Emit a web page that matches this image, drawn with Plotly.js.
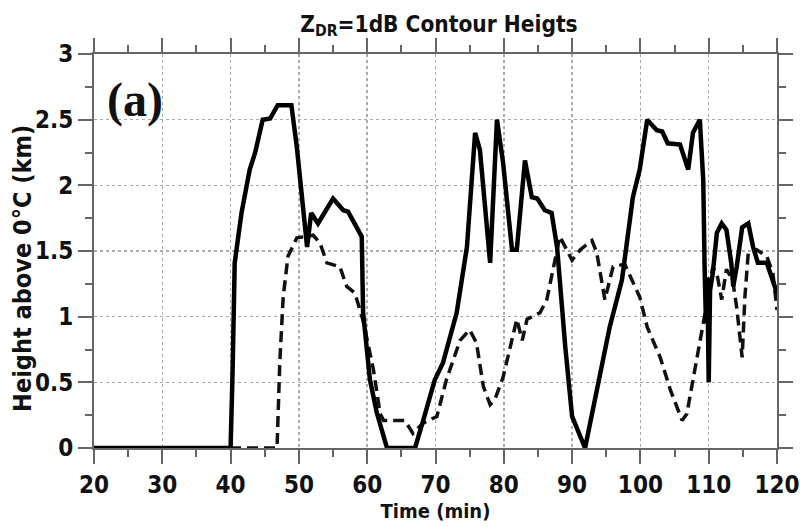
<!DOCTYPE html>
<html>
<head>
<meta charset="utf-8">
<script src="https://cdn.plot.ly/plotly-3.0.1.min.js"></script>
<style>html,body{margin:0;padding:0;background:#fff;}#chart{width:800px;height:527px;}</style>
</head>
<body>
<div id="chart"></div>
<script>
// Solid line: ZDR=1dB contour height (series 1)
const solidTime = [20,40,40.3,40.6,41.6,42.8,43.6,44.7,45.8,46.9,48.9,49.7,51.2,51.8,52.8,55.0,56.5,57.2,59.2,59.4,60.4,61.4,62.9,67.0,68.2,69.9,71.1,73.1,74.6,75.8,76.5,78.0,79.0,79.9,81.2,81.9,83.1,84.1,84.9,86.0,87.0,87.8,89.0,90.0,91.9,93.6,95.5,97.3,98.9,99.9,101.0,102.4,103.2,104.0,105.8,107.0,107.7,108.7,109.2,109.4,109.6,109.8,110.0,110.2,110.6,111.2,111.9,112.6,113.3,113.6,114.1,114.9,115.8,116.5,117.2,118.5,119.4,120];
const solidHeight = [0,0,0.6,1.41,1.79,2.12,2.25,2.50,2.51,2.61,2.61,2.29,1.53,1.79,1.71,1.90,1.81,1.80,1.61,1.03,0.52,0.27,0,0,0.21,0.52,0.65,1.03,1.53,2.40,2.27,1.41,2.50,2.17,1.51,1.51,2.19,1.91,1.90,1.81,1.79,1.53,0.77,0.24,0,0.44,0.92,1.28,1.91,2.12,2.50,2.42,2.41,2.32,2.31,2.12,2.40,2.50,2.04,1.38,0.95,1.30,0.50,1.20,1.33,1.64,1.71,1.66,1.41,1.23,1.38,1.68,1.71,1.53,1.41,1.41,1.28,1.18];
// Dashed line (series 2)
const dashTime = [20,46.8,47.2,47.7,48.4,49.7,52.1,53.1,54.1,56.0,57.0,58.2,59.4,60.9,61.9,62.4,65.5,66.7,68.2,70.2,71.6,73.6,75.0,76.0,77.0,78.0,78.7,79.9,81.9,82.7,83.4,85.3,86.3,87.3,88.2,90.0,91.2,92.9,93.6,94.8,96.0,97.7,99.9,101.0,102.9,104.4,106.1,106.8,107.7,109.0,109.9,110.6,111.3,111.9,112.6,113.5,114.1,114.9,115.3,115.8,117.0,118.5,119.4,120];
const dashHeight = [0,0,0.65,1.15,1.46,1.60,1.62,1.56,1.41,1.38,1.23,1.18,0.97,0.60,0.26,0.21,0.21,0.11,0.19,0.24,0.52,0.82,0.90,0.80,0.47,0.33,0.37,0.54,0.98,0.82,0.98,1.03,1.13,1.38,1.61,1.43,1.51,1.58,1.49,1.13,1.38,1.40,1.15,0.92,0.69,0.44,0.21,0.26,0.52,0.88,1.15,1.38,1.30,1.13,1.36,1.28,1.07,0.69,1.15,1.49,1.51,1.46,1.33,1.05];

const xTickVals = [20,30,40,50,60,70,80,90,100,110,120];
const yTickVals = [0,0.5,1,1.5,2,2.5,3];
const yTickText = ['0','0.5','1','1.5','2','2.5','3'];

const FONT = '"Liberation Sans Narrow","Arial Narrow","DejaVu Sans Condensed","Liberation Sans",sans-serif';

const traces = [
  {x: dashTime, y: dashHeight, mode:'lines', line:{color:'#111', width:3.5, dash:'11px,6px'}, hoverinfo:'skip'},
  {x: solidTime, y: solidHeight, mode:'lines', line:{color:'#000', width:4.5}, hoverinfo:'skip'}
];

const axisCommon = {
  showline:true, linecolor:'#666', linewidth:2, mirror:'ticks',
  ticks:'outside', ticklen:14, tickwidth:2, tickcolor:'#666',
  showgrid:true, gridcolor:'#aaa', gridwidth:1.5, griddash:'dot',
  zeroline:false,
  tickfont:{family:FONT, size:24, color:'#111', weight:'bold'},
  minor:{ticks:'outside', ticklen:7, tickwidth:2, tickcolor:'#666', showgrid:false}
};

const layout = {
  width:800, height:527,
  margin:{l:94, r:23, t:54, b:79},
  paper_bgcolor:'#fff', plot_bgcolor:'#fff',
  showlegend:false,
  title:{text:'Z<sub>DR</sub>=1dB Contour Heigts', x:0.505, xref:'paper', y:0.955, yref:'container', yanchor:'middle',
    font:{family:FONT, size:22.5, color:'#111', weight:'bold'}},
  xaxis: Object.assign({}, axisCommon, {range:[20,120], tickvals:xTickVals, ticktext:xTickVals.map(String),
    minor:Object.assign({}, axisCommon.minor, {dtick:5, tick0:20}),
    title:{text:'Time (min)', standoff:5, font:{family:FONT, size:20, color:'#111', weight:'bold'}}}),
  yaxis: Object.assign({}, axisCommon, {range:[0,3], tickvals:yTickVals, ticktext:yTickText,
    minor:Object.assign({}, axisCommon.minor, {dtick:0.25, tick0:0})}),
  annotations:[
    {x:-0.104, y:0.457, xref:'paper', yref:'paper', text:'Height above 0°C (km)', textangle:-90, showarrow:false,
      xanchor:'center', yanchor:'middle',
      font:{family:FONT, size:25, color:'#111', weight:'bold'}},
    {x:26, y:2.65, xref:'x', yref:'y', text:'(a)', showarrow:false,
      font:{family:'"Liberation Serif","Times New Roman",serif', size:48, color:'#111', weight:'bold'}}
  ]
};

Plotly.newPlot('chart', traces, layout, {staticPlot:true, displayModeBar:false});
</script>
</body>
</html>
